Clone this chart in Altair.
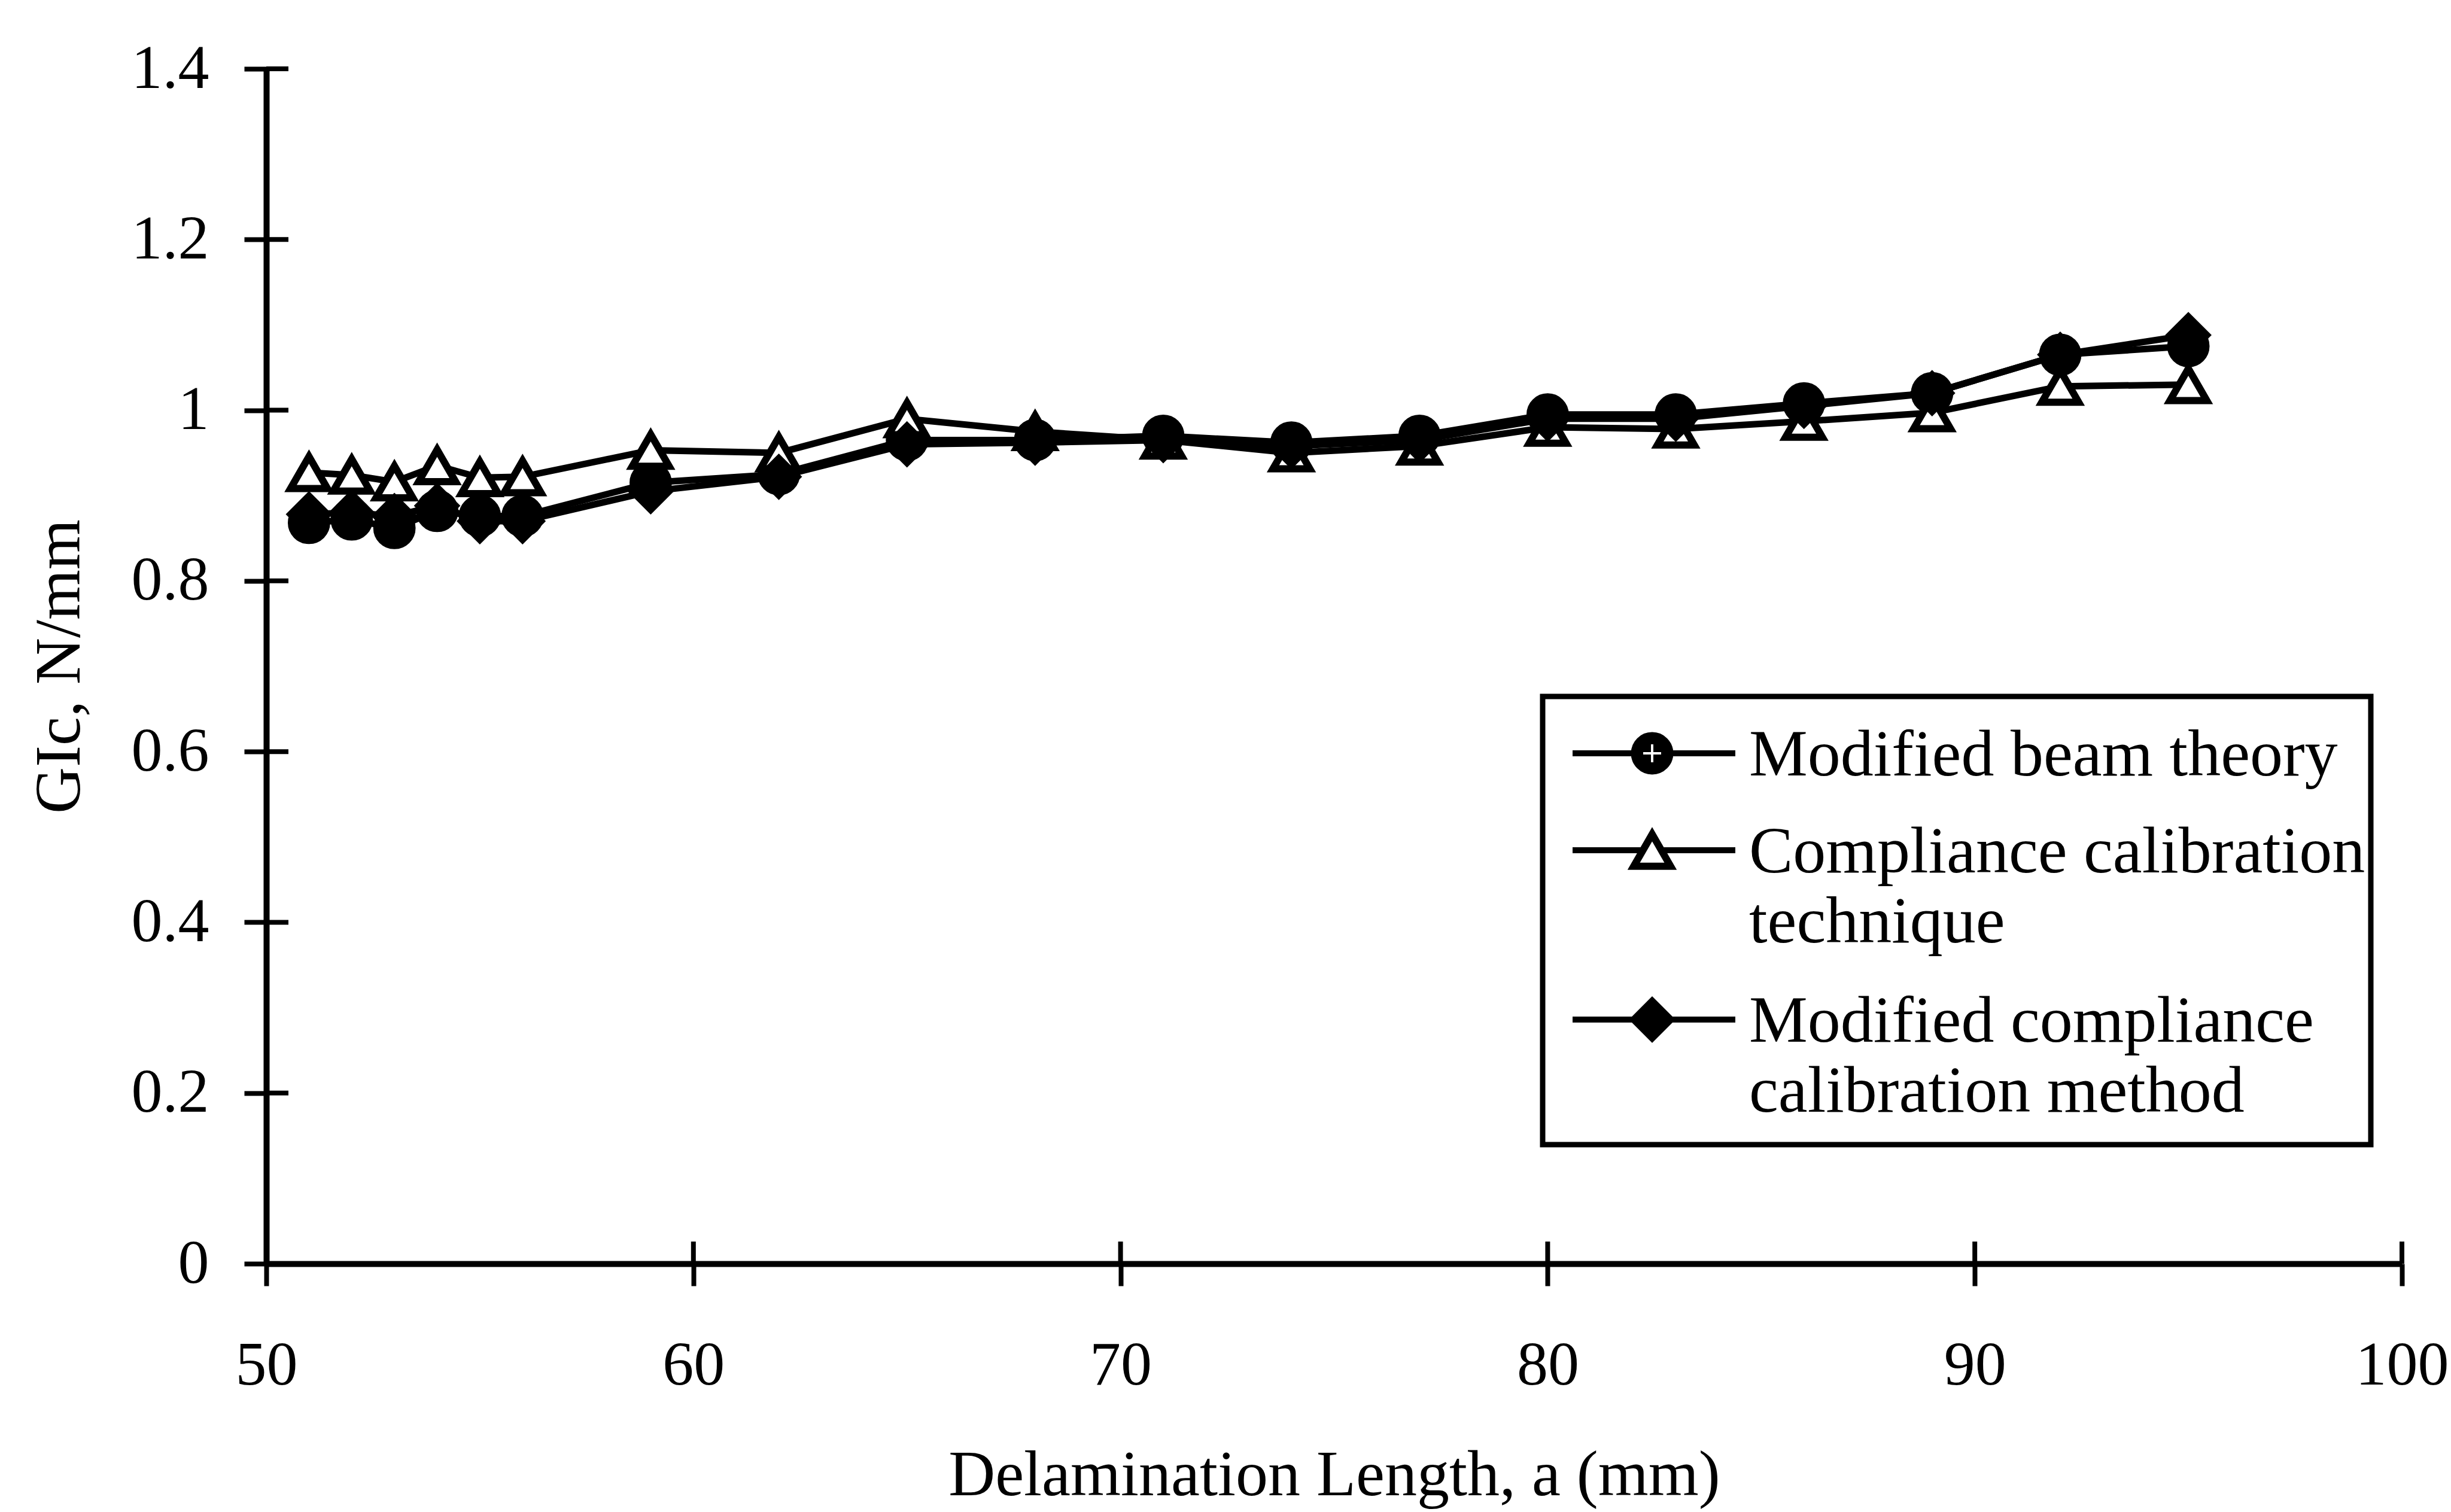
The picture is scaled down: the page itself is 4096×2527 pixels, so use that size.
import altair as alt
import pandas as pd

# ---------------- data ----------------
delam_length = [51, 52, 53, 54, 55, 56, 59, 62, 65, 68, 71, 74, 77, 80, 83, 86, 89, 92, 95]
mbt_values = [0.868, 0.872, 0.862, 0.882, 0.876, 0.876, 0.915, 0.925, 0.965, 0.965,
              0.970, 0.962, 0.970, 0.995, 0.995, 1.008, 1.020, 1.065, 1.075]
cc_values = [0.927, 0.924, 0.916, 0.935, 0.921, 0.922, 0.953, 0.950, 0.990, 0.975,
             0.965, 0.950, 0.958, 0.980, 0.978, 0.987, 0.997, 1.028, 1.030]
mcc_values = [0.878, 0.880, 0.876, 0.888, 0.870, 0.870, 0.905, 0.922, 0.960, 0.962,
              0.965, 0.958, 0.965, 0.990, 0.990, 1.005, 1.020, 1.065, 1.088]
series_names = ["Modified beam theory", "Compliance calibration technique",
                "Modified compliance calibration method"]
x_ticks = [50, 60, 70, 80, 90, 100]
y_ticks = [0, 0.2, 0.4, 0.6, 0.8, 1.0, 1.2, 1.4]
legend_lines = [["Modified beam theory"],
                ["Compliance calibration", "technique"],
                ["Modified compliance", "calibration method"]]

# ---------------- layout ----------------
FONT = "Liberation Serif"
W, H = 3569, 1997
PAD = {"left": 445, "top": 115, "right": 82, "bottom": 415}
TICK = 37

frames = []
for name, vals in zip(series_names, [mbt_values, cc_values, mcc_values]):
    frames.append(pd.DataFrame({"x": delam_length, "y": vals, "series": name}))
df = pd.concat(frames, ignore_index=True)

x_scale = alt.Scale(domain=[50, 100], nice=False, zero=False)
y_scale = alt.Scale(domain=[0, 1.4], nice=False, zero=False)

x_axis = alt.Axis(values=x_ticks, format="d", title="Delamination Length, a (mm)",
                  grid=False, ticks=True, tickSize=TICK, tickWidth=8, tickColor="black",
                  domainColor="black", domainWidth=10,
                  labelFont=FONT, labelFontSize=104, labelColor="black", labelPadding=82,
                  labelFlush=False, labelOverlap=False, labelBound=False,
                  titleFont=FONT, titleFontSize=108, titleFontWeight="normal", titleColor="black",
                  titleX=W / 2, titleY=386, titleBaseline="alphabetic", titleAlign="center")
y_axis = alt.Axis(values=y_ticks, format="~g", title="GIc, N/mm",
                  grid=False, ticks=True, tickSize=TICK, tickWidth=8, tickColor="black",
                  domainColor="black", domainWidth=10,
                  labelFont=FONT, labelFontSize=104, labelColor="black", labelPadding=59,
                  labelFlush=False, labelOverlap=False, labelBound=False,
                  titleFont=FONT, titleFontSize=108, titleFontWeight="normal", titleColor="black",
                  titleX=-313, titleY=H / 2, titleAngle=270, titleBaseline="alphabetic",
                  titleAlign="center")

X = alt.X("x:Q", scale=x_scale, axis=x_axis)
Y = alt.Y("y:Q", scale=y_scale, axis=y_axis)

layers = []

# inward halves of the crossing tick marks
xt = pd.DataFrame({"x": x_ticks})
yt = pd.DataFrame({"y": y_ticks})
layers.append(alt.Chart(xt).mark_rule(color="black", strokeWidth=8).encode(
    x=X, y=alt.value(H - TICK), y2=alt.value(H)))
layers.append(alt.Chart(yt).mark_rule(color="black", strokeWidth=8).encode(
    y=Y, x=alt.value(0), x2=alt.value(TICK)))

marker_styles = [
    dict(shape="circle", size=4200, fill="black", stroke="black", strokeWidth=6),
    dict(shape="triangle-up", size=3800, fill="white", stroke="black", strokeWidth=12),
    dict(shape="diamond", size=5000, fill="black", stroke="black", strokeWidth=5),
]

for name, st in zip(series_names, marker_styles):
    base = alt.Chart(df).transform_filter(alt.datum.series == name)
    layers.append(base.mark_line(color="black", strokeWidth=11).encode(x=X, y=Y))
    layers.append(base.mark_point(filled=True, opacity=1, **st).encode(x=X, y=Y))

# ---------------- legend ----------------
dummy = pd.DataFrame({"d": [0]})
LX1, LX2, LY1, LY2 = 2133, 3517, 1049, 1798
layers.append(alt.Chart(dummy).mark_rect(fill="white", stroke="black", strokeWidth=9).encode(
    x=alt.value(LX1), x2=alt.value(LX2), y=alt.value(LY1), y2=alt.value(LY2)))

sym_y = [1144, 1306, 1589]
text_y = [[1181], [1343, 1460], [1626, 1743]]
for st, sy, lines, tys in zip(marker_styles, sym_y, legend_lines, text_y):
    layers.append(alt.Chart(dummy).mark_rule(color="black", strokeWidth=10).encode(
        x=alt.value(2183), x2=alt.value(2455), y=alt.value(sy)))
    layers.append(alt.Chart(dummy).mark_point(filled=True, opacity=1, **st).encode(
        x=alt.value(2316), y=alt.value(sy)))
    for line, ty in zip(lines, tys):
        layers.append(alt.Chart(dummy).mark_text(
            align="left", baseline="alphabetic", font=FONT, fontSize=110, color="black").encode(
            x=alt.value(2478), y=alt.value(ty), text=alt.value(line)))

# white cross inside legend circle marker
layers.append(alt.Chart(dummy).mark_point(
    shape="M-1,0H1M0,-1V1", size=900, filled=False, stroke="white", strokeWidth=4, opacity=1).encode(
    x=alt.value(2316), y=alt.value(sym_y[0])))

chart = alt.layer(*layers).properties(
    width=W, height=H,
    autosize=alt.AutoSizeParams(type="none"),
    padding=PAD,
    background="white",
).configure_view(stroke=None)

chart.save("out.html", embed_options={"renderer": "svg", "actions": False})
